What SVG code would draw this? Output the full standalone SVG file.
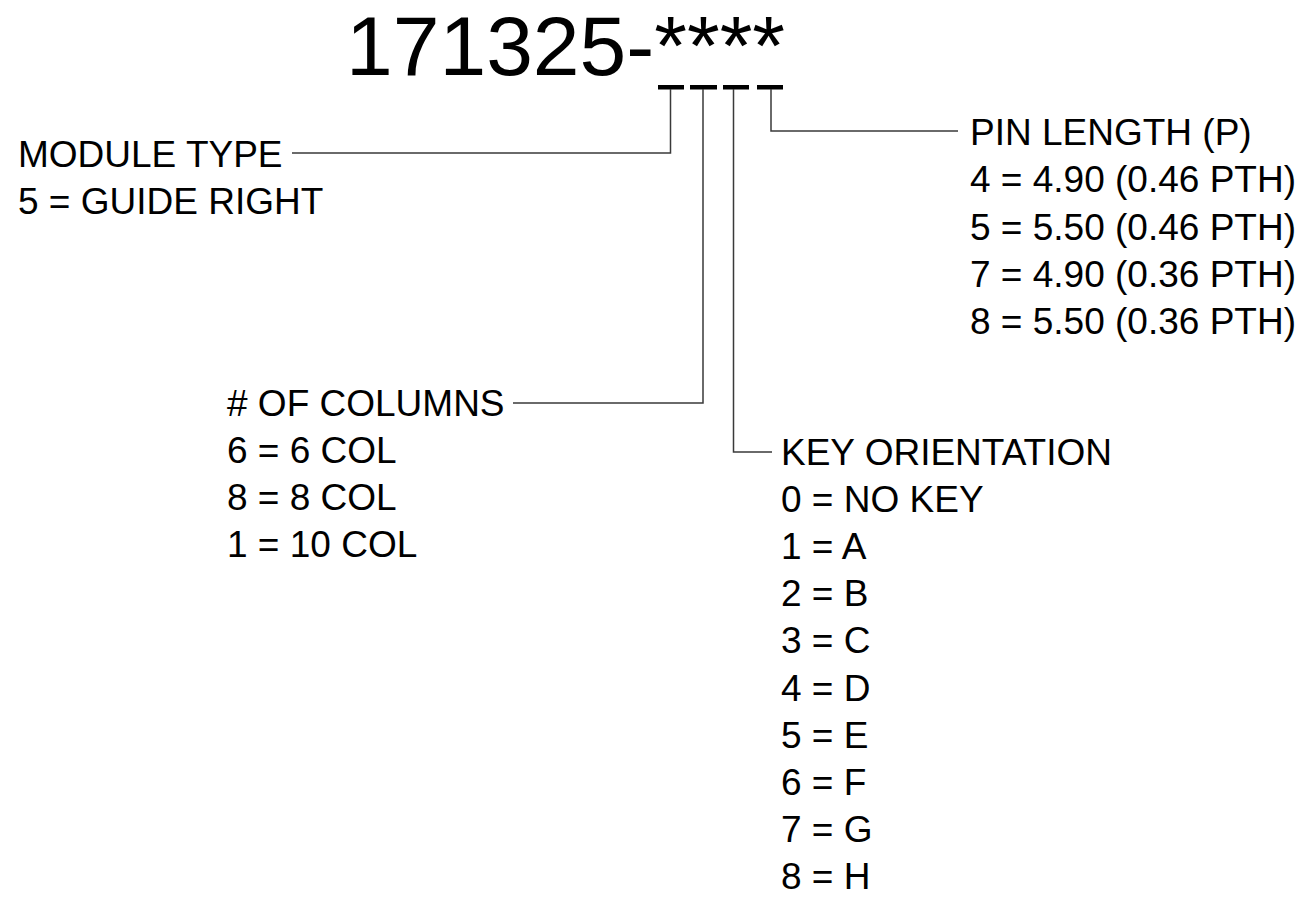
<svg xmlns="http://www.w3.org/2000/svg" width="1312" height="899" viewBox="0 0 1312 899">
<style>
text{font-family:"Liberation Sans",Arial,sans-serif;fill:#000;}
.t{font-size:37px;}
.big{font-size:84px;}
.c{fill:none;stroke:#3a3a3a;stroke-width:1.5;}
.bar{fill:#000;}
</style>
<rect width="1312" height="899" fill="#fff"/>
<g id="part-number">
<text class="big" x="346" y="75">171325-****</text>
<rect class="bar" x="658" y="85" width="26" height="4.5"/>
<rect class="bar" x="690" y="85" width="27" height="4.5"/>
<rect class="bar" x="723" y="85" width="26" height="4.5"/>
<rect class="bar" x="757" y="85" width="26" height="4.5"/>
</g>
<g id="connectors">
<polyline class="c" points="670.5,89 670.5,153 292,153"/>
<polyline class="c" points="703,89 703,403 513,403"/>
<polyline class="c" points="733.5,89 733.5,452 772,452"/>
<polyline class="c" points="771,89 771,131 958,131"/>
</g>
<g id="module-type">
<text class="t" x="18" y="167">MODULE TYPE</text>
<text class="t" x="18" y="214">5 = GUIDE RIGHT</text>
</g>
<g id="pin-length">
<text class="t" x="970" y="145">PIN LENGTH (P)</text>
<text class="t" x="970" y="192">4 = 4.90 (0.46 PTH)</text>
<text class="t" x="970" y="240">5 = 5.50 (0.46 PTH)</text>
<text class="t" x="970" y="287">7 = 4.90 (0.36 PTH)</text>
<text class="t" x="970" y="334">8 = 5.50 (0.36 PTH)</text>
</g>
<g id="columns">
<text class="t" x="227" y="416"># OF COLUMNS</text>
<text class="t" x="227" y="463">6 = 6 COL</text>
<text class="t" x="227" y="510">8 = 8 COL</text>
<text class="t" x="227" y="557">1 = 10 COL</text>
</g>
<g id="key-orientation">
<text class="t" x="781" y="465">KEY ORIENTATION</text>
<text class="t" x="781" y="512">0 = NO KEY</text>
<text class="t" x="781" y="559">1 = A</text>
<text class="t" x="781" y="606">2 = B</text>
<text class="t" x="781" y="653">3 = C</text>
<text class="t" x="781" y="701">4 = D</text>
<text class="t" x="781" y="748">5 = E</text>
<text class="t" x="781" y="795">6 = F</text>
<text class="t" x="781" y="842">7 = G</text>
<text class="t" x="781" y="889">8 = H</text>
</g>
</svg>
